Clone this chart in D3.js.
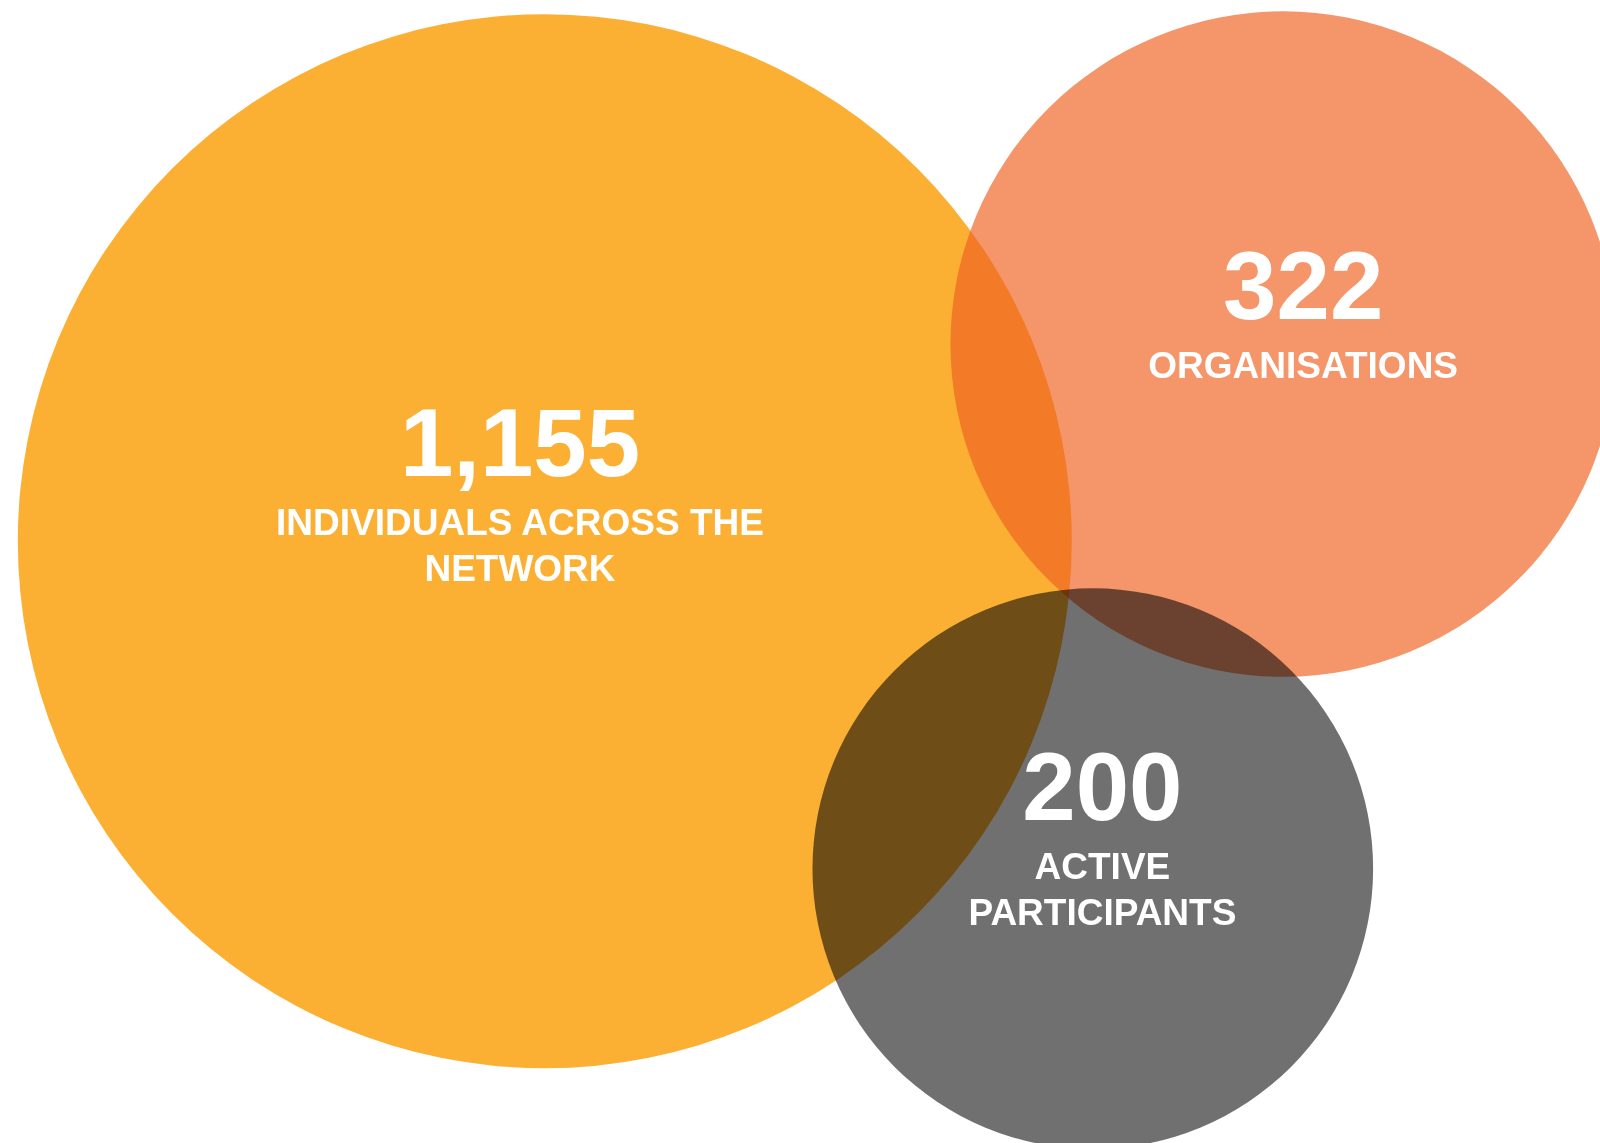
<!DOCTYPE html>
<html>
<head>
<meta charset="utf-8">
<script src="https://cdn.jsdelivr.net/npm/d3@7"></script>
<style>
  html, body { margin: 0; padding: 0; background: #ffffff; }
  svg { display: block; }
  text { font-family: "Liberation Sans", Arial, Helvetica, sans-serif; font-weight: bold; fill: #ffffff; }
</style>
</head>
<body>
<div id="chart"></div>
<script>
// values shown in each bubble
var names  = ["individuals", "organisations", "participants"];
var values = [1155, 322, 200];
var labels = [
  ["INDIVIDUALS ACROSS THE", "NETWORK"],
  ["ORGANISATIONS"],
  ["ACTIVE", "PARTICIPANTS"]
];

// layout (in percent of the canvas) and look
var centerX = [34.05, 80.2, 68.3];
var centerY = [47.35, 30.1, 76.0];
var textX   = [32.5, 81.45, 68.9];
var textY   = [41.65, 27.9, 71.7];
var fills   = ["#fbb034", "#ef6121", "#707070"];
var opacity = [1, 0.67, 1];
var blend   = ["normal", "normal", "multiply"];

var w = 1600,
    h = 1143;

var x = d3.scaleLinear().domain([0, 100]).range([0, w]),
    y = d3.scaleLinear().domain([0, 100]).range([0, h]),
    rScale = d3.scalePow().exponent(0.36).domain([0, d3.max(values)]).range([0, 527]);

var fmt = d3.format(",");

var data = values.map(function(v, i) {
  return { name: names[i], value: v, label: labels[i], i: i };
});

var svg = d3.select("#chart").append("svg")
    .attr("width", w)
    .attr("height", h);

var bubbles = svg.append("g").attr("class", "bubbles");

bubbles.selectAll("circle")
  .data(data)
  .enter().append("circle")
    .attr("cx", function(d) { return x(centerX[d.i]); })
    .attr("cy", function(d) { return y(centerY[d.i]); })
    .attr("r", function(d) { return rScale(d.value); })
    .style("fill", function(d) { return fills[d.i]; })
    .style("fill-opacity", function(d) { return opacity[d.i]; })
    .style("mix-blend-mode", function(d) { return blend[d.i]; });

var texts = svg.append("g").attr("class", "labels")
  .selectAll("g")
  .data(data)
  .enter().append("g")
    .attr("transform", function(d) {
      return "translate(" + x(textX[d.i]) + "," + y(textY[d.i]) + ")";
    });

texts.append("text")
    .attr("text-anchor", "middle")
    .style("font-size", "96px")
    .text(function(d) { return fmt(d.value); });

texts.each(function(d) {
  var g = d3.select(this);
  d.label.forEach(function(line, k) {
    g.append("text")
      .attr("text-anchor", "middle")
      .attr("y", 59 + k * 46)
      .style("font-size", "37px")
      .text(line);
  });
});
</script>
</body>
</html>
